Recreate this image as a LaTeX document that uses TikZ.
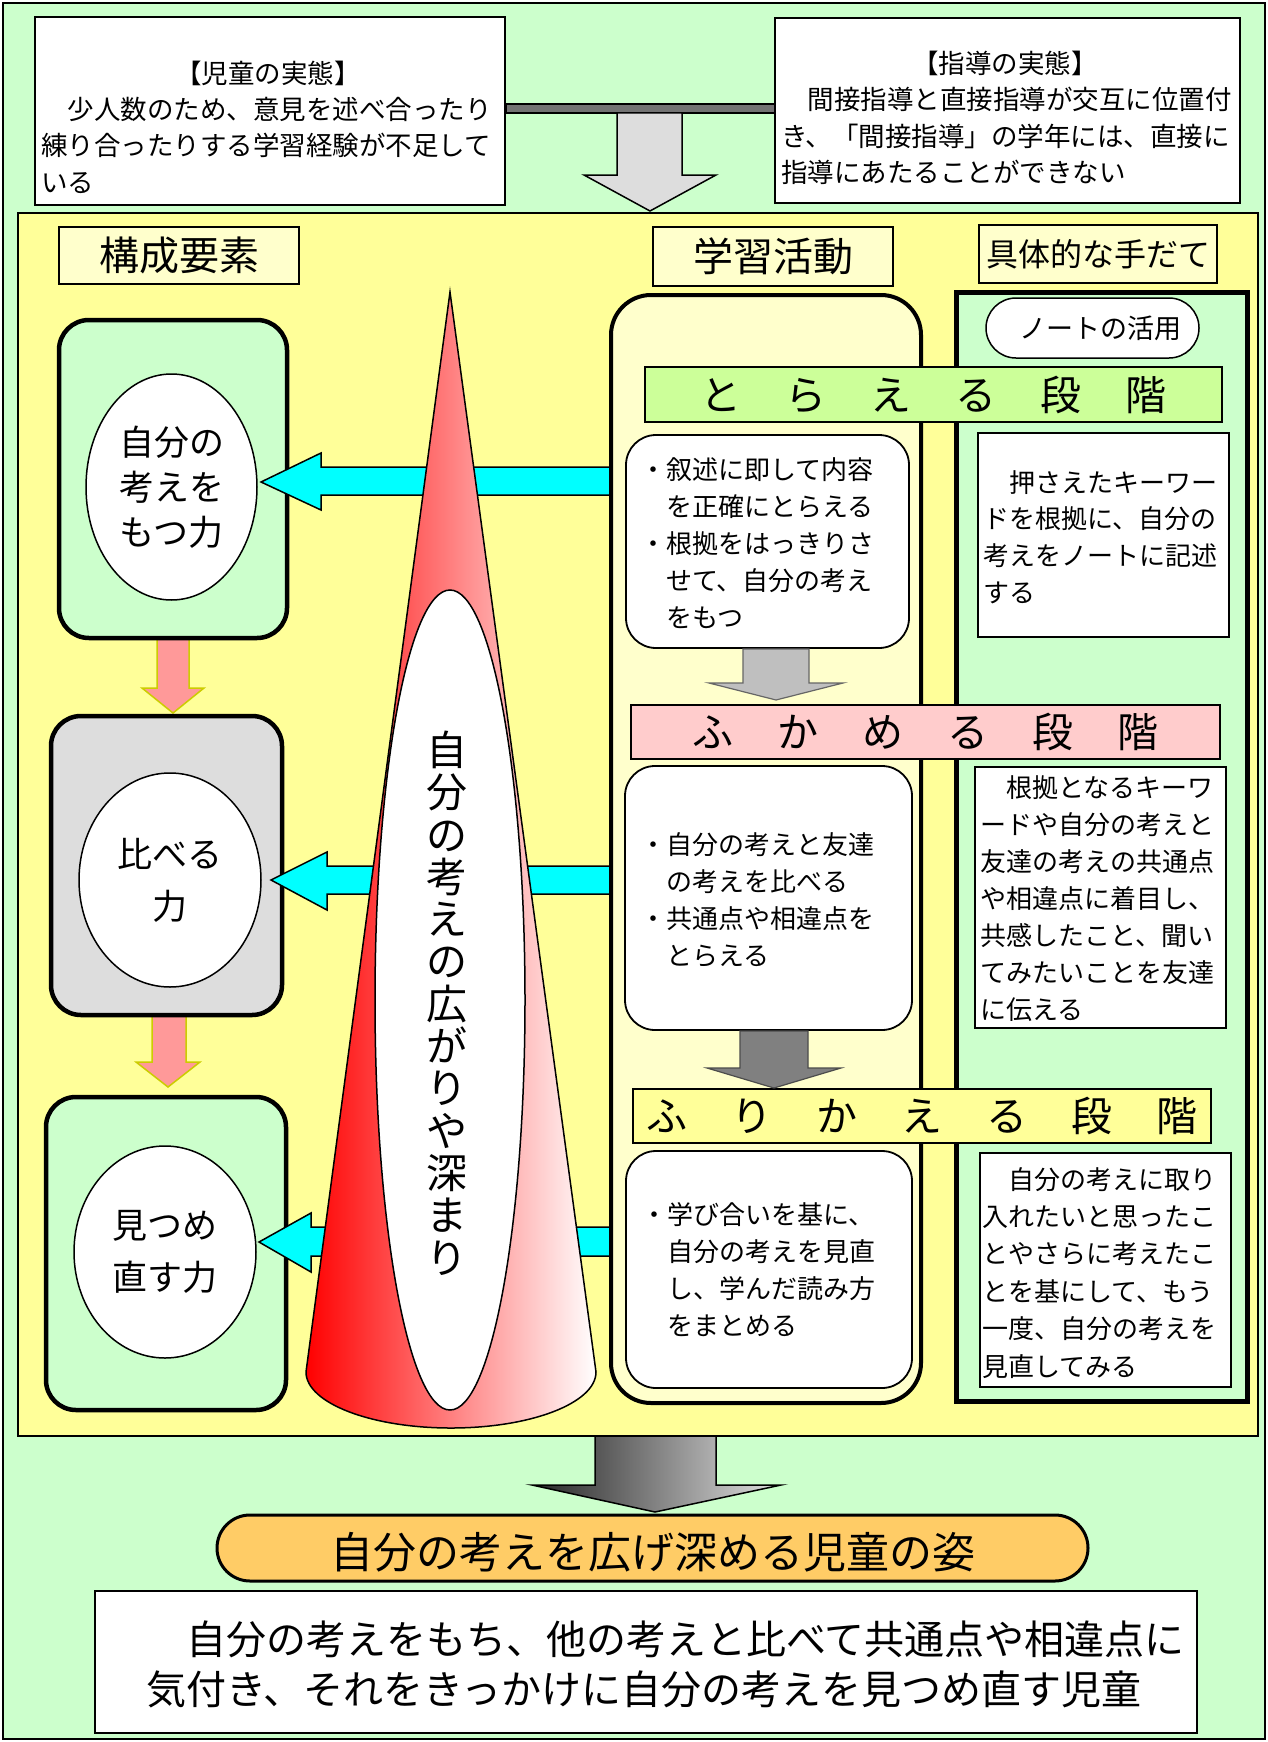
\documentclass[tikz,border=0pt]{standalone}
\usepackage{fontspec}
\setmainfont{Noto Sans CJK JP}
\usetikzlibrary{shapes.geometric}
\definecolor{bggreen}{HTML}{CCFFCC}
\definecolor{bgyellow}{HTML}{FFFF99}
\definecolor{ltyellow}{HTML}{FFFFCC}
\definecolor{banG}{HTML}{CCFF99}
\definecolor{banP}{HTML}{FFCCCC}
\definecolor{pinkarr}{HTML}{FF9999}
\definecolor{olivearr}{HTML}{CCCC00}
\definecolor{cyanarr}{HTML}{00FFFF}
\definecolor{orangeP}{HTML}{FFCC66}
\definecolor{greyL}{HTML}{DDDDDD}
\newcommand\setfs[2]{\fontsize{#1}{#2}\selectfont}
\newcommand\gapD{\hspace{44pt}}
\tikzset{
  plainbox/.style={draw=black, line width=1.5, fill=white, inner sep=0},
  hdrbox/.style={draw=black, line width=1.5, fill=ltyellow, inner sep=0, font=\setfs{40}{40}},
  elembox/.style={draw=black, line width=4.5, rounded corners=30, inner sep=0},
  ell/.style={ellipse, draw=black, line width=1.5, fill=white, inner sep=0, align=center},
  actbox/.style={draw=black, line width=1.8, fill=white, rounded corners=30, inner sep=0},
  banner/.style={draw=black, line width=1.5, inner sep=0, font=\setfs{41}{41}},
  tx/.style={inner sep=0, anchor=north west, align=left},
  pinkA/.style={draw=olivearr, line width=1.5, fill=pinkarr},
  cyanA/.style={draw=black, line width=1.5, fill=cyanarr},
}
\begin{document}
\begin{tikzpicture}[x=1pt,y=-1pt]
\useasboundingbox (0,0) rectangle (1268,1742);
% outer background
\draw[line width=2, fill=bggreen] (3,3) rectangle (1265,1739);

% top boxes
\node[plainbox, minimum width=470, minimum height=188] (JD) at (270,111) {};
\node[font=\setfs{26.5}{26.5}] (JDh) at (268,73) {【児童の実態】};
\node[tx, font=\setfs{26.5}{36.5}] (JDt) at (41,97) {　少人数のため、意見を述べ合ったり\\練り合ったりする学習経験が不足して\\いる};
\node[plainbox, minimum width=465, minimum height=185] (SD) at (1007.5,110.5) {};
\node[font=\setfs{26.5}{26.5}] (SDh) at (1005,63) {【指導の実態】};
\node[tx, font=\setfs{26.5}{36.5}] (SDt) at (781,87) {　間接指導と直接指導が交互に位置付\\き、「間接指導」の学年には、直接に\\指導にあたることができない};
% connecting bar
\draw[line width=1.5, fill=black!55] ([yshift=7pt]JD.east) rectangle ([yshift=-2.5pt]SD.west);

% yellow frame
\draw[line width=1.5, fill=bgyellow] (18,213) rectangle (1258,1436);
% top down arrow
\draw[line width=1.5, fill=greyL] (617,113) -- (682,113) -- (682,175) -- (716,175) -- (650,211) -- (584,175) -- (617,175) -- cycle;

% headers
\node[hdrbox, minimum width=240, minimum height=57] (H1) at (179,255.5) {構成要素};
\node[hdrbox, minimum width=240, minimum height=59] (H2) at (773,256.5) {学習活動};
\node[hdrbox, minimum width=238, minimum height=58, font=\setfs{32}{32}] (H3) at (1098,254) {具体的な手だて};

% pink arrows between element boxes
\draw[pinkA] (157,636) -- (189,636) -- (189,688) -- (204,688) -- (173,713) -- (142,688) -- (157,688) -- cycle;
\draw[pinkA] (152,1012) -- (186,1012) -- (186,1062) -- (200,1062) -- (168,1087) -- (136,1062) -- (152,1062) -- cycle;

% element boxes
\node[elembox, fill=bggreen, minimum width=228, minimum height=318] (L1) at (173,479) {};
\node[ell, minimum width=171, minimum height=226, font=\setfs{35}{45}] (E1) at (171.5,487) {自分の\\考えを\\もつ力};
\node[elembox, fill=greyL, minimum width=231, minimum height=299] (L2) at (166.5,865.5) {};
\node[ell, minimum width=182, minimum height=214, font=\setfs{35}{52}] (E2) at (170,880) {比べる\\力};
\node[elembox, fill=bggreen, minimum width=240, minimum height=313] (L3) at (166,1253.5) {};
\node[ell, minimum width=182, minimum height=212, font=\setfs{35}{52}] (E3) at (165,1252) {見つめ\\直す力};

% cyan arrows
\draw[cyanA] (612,467) -- (321,467) -- (321,453) -- (261,482) -- (321,510) -- (321,495) -- (612,495) -- cycle;
\draw[cyanA] (612,866) -- (327,866) -- (327,852) -- (271,880) -- (327,910) -- (327,894) -- (612,894) -- cycle;
\draw[cyanA] (612,1227) -- (311,1227) -- (311,1213) -- (259,1242) -- (311,1272) -- (311,1256) -- (612,1256) -- cycle;

% cone
\draw[line width=1.5, left color=red, right color=white] (450,292) -- (306,1372) arc[start angle=180, end angle=0, x radius=145, y radius=56] -- cycle;
\node[ellipse, draw=black, line width=1.5, fill=white, minimum width=150, minimum height=820, inner sep=0] (W) at (450,1000) {};
\node[font=\setfs{41}{42.3}, align=center, inner sep=0] (VT) at (447,1003) {自\\分\\の\\考\\え\\の\\広\\が\\り\\や\\深\\ま\\り};

% learning activity column
\node[draw=black, line width=4, fill=ltyellow, rounded corners=40, inner sep=0, minimum width=310, minimum height=1108] (C) at (766,849) {};

% concrete measures column
\node[draw=black, line width=5, fill=bggreen, inner sep=0, minimum width=291, minimum height=1109] (R) at (1101.5,846.5) {};
\node[draw=black, line width=1.5, fill=white, rounded corners=30, inner sep=0, minimum width=213, minimum height=60] (NT) at (1092.5,328) {};
\node[font=\setfs{27}{27}] (NTt) at (1100,328) {ノートの活用};
\node[plainbox, minimum width=251, minimum height=204] (R1) at (1103.5,535) {};
\node[tx, font=\setfs{26}{36.7}] (R1t) at (983,470) {　押さえたキーワー\\ドを根拠に、自分の\\考えをノートに記述\\する};
\node[plainbox, minimum width=251, minimum height=261] (R2) at (1100.5,897.5) {};
\node[tx, font=\setfs{26}{37}] (R2t) at (980,775) {　根拠となるキーワ\\ードや自分の考えと\\友達の考えの共通点\\や相違点に着目し、\\共感したこと、聞い\\てみたいことを友達\\に伝える};
\node[plainbox, minimum width=251, minimum height=234] (R3) at (1105.5,1270) {};
\node[tx, font=\setfs{26}{37.4}] (R3t) at (982,1167) {　自分の考えに取り\\入れたいと思ったこ\\とやさらに考えたこ\\とを基にして、もう\\一度、自分の考えを\\見直してみる};

% stage banners
\node[banner, fill=banG, minimum width=577, minimum height=55] (B1) at (933.5,394.5) {と\gapD ら\gapD え\gapD る\gapD 段\gapD 階};
\node[banner, fill=banP, minimum width=589, minimum height=54] (B2) at (925.5,732) {ふ\gapD か\gapD め\gapD る\gapD 段\gapD 階};
\node[banner, fill=bgyellow, minimum width=578, minimum height=54] (B3) at (922,1116) {ふ\gapD り\gapD か\gapD え\gapD る\gapD 段\gapD 階};

% activity boxes
\node[actbox, minimum width=283, minimum height=213] (BA) at (767.5,541.5) {};
\node[tx, font=\setfs{26}{37}] (BAt) at (640,457) {・叙述に即して内容\\　を正確にとらえる\\・根拠をはっきりさ\\　せて、自分の考え\\　をもつ};
\node[actbox, minimum width=287, minimum height=264] (BB) at (768.5,898) {};
\node[tx, font=\setfs{26}{37}] (BBt) at (640,832) {・自分の考えと友達\\　の考えを比べる\\・共通点や相違点を\\　とらえる};
\node[actbox, minimum width=286, minimum height=237] (BC) at (769,1269.5) {};
\node[tx, font=\setfs{26}{37}] (BCt) at (641,1202) {・学び合いを基に、\\　自分の考えを見直\\　し、学んだ読み方\\　をまとめる};

% grey arrows between stages
\draw[line width=1.2, draw=black!60, fill=black!25] (743,649) -- (809,649) -- (809,683) -- (843,683) -- (776,700) -- (709,683) -- (743,683) -- cycle;
\draw[line width=1.2, draw=black!70, fill=black!50] (740,1031) -- (808,1031) -- (808,1068) -- (841,1068) -- (774,1088) -- (707,1068) -- (740,1068) -- cycle;

% bottom arrow
\draw[line width=1.5, left color=black!85, right color=black!12] (595,1436) -- (716,1436) -- (716,1485) -- (781,1485) -- (655,1512) -- (532,1485) -- (595,1485) -- cycle;

% result pill and description
\node[draw=black, line width=3, fill=orangeP, rounded corners=33, inner sep=0, minimum width=871, minimum height=66] (P) at (652.5,1548) {};
\node[font=\setfs{43}{43}] (Pt) at (653,1552) {自分の考えを広げ深める児童の姿};
\node[draw=black, line width=2, fill=white, inner sep=0, minimum width=1102, minimum height=142] (F) at (646,1662) {};
\node[tx, font=\setfs{40}{50}] (Ft) at (146,1621) {　自分の考えをもち、他の考えと比べて共通点や相違点に\\気付き、それをきっかけに自分の考えを見つめ直す児童};
\end{tikzpicture}
\end{document}
